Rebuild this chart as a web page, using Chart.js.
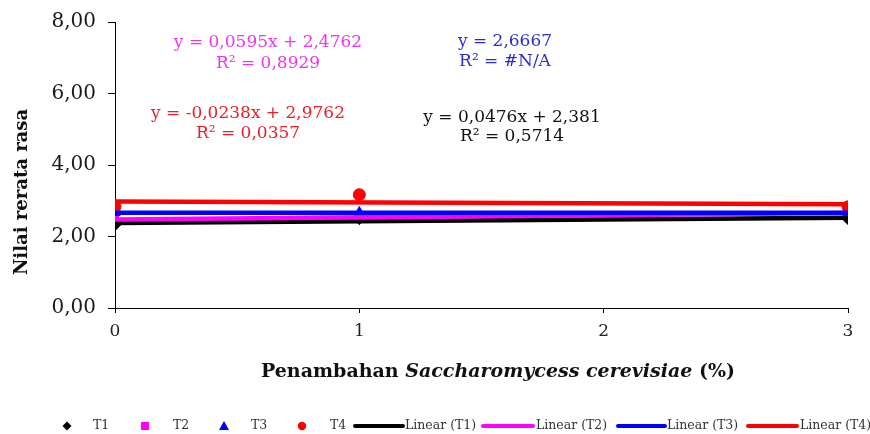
<!DOCTYPE html>
<html>
<head>
<meta charset="utf-8">
<script src="https://cdn.jsdelivr.net/npm/chart.js@4"></script>
<style>
  html, body { margin: 0; padding: 0; background: #fff; }
  #wrap { width: 870px; height: 434px; }
</style>
</head>
<body>
<div id="wrap"><canvas id="chart" width="870" height="434"></canvas></div>
<script>
// data
const doses = [0, 1, 3];
const t1 = [2.33, 2.5, 2.5];
const t2 = [2.5, 2.5, 2.67];
const t3 = [2.67, 2.67, 2.67];
const t4 = [2.83, 3.17, 2.83];

// trendline end points (x = 0 and x = 3)
const trendX = [0, 3];
const trendT1 = [2.381, 2.524];
const trendT2 = [2.476, 2.655];
const trendT3 = [2.667, 2.667];
const trendT4 = [2.976, 2.905];

const yTicks = [0, 2, 4, 6, 8];
const xTicks = [0, 1, 2, 3];

const seriesNames = ['T1', 'T2', 'T3', 'T4'];
const trendNames = ['Linear (T1)', 'Linear (T2)', 'Linear (T3)', 'Linear (T4)'];
const colors = ['#000000', '#ff00ff', '#0000ff', '#ff0000'];

const equations = [
  ['y = 0,0595x + 2,4762', 'R² = 0,8929'],
  ['y = 2,6667', 'R² = #N/A'],
  ['y = -0,0238x + 2,9762', 'R² = 0,0357'],
  ['y = 0,0476x + 2,381', 'R² = 0,5714']
];

const SERIF = '"DejaVu Serif", "Liberation Serif", serif';

function pts(xs, ys) {
  return xs.map((x, i) => ({ x: x, y: ys[i] }));
}

function trend(ys, color) {
  return {
    type: 'line',
    data: pts(trendX, ys),
    borderColor: color,
    borderWidth: 4.5,
    pointRadius: 0,
    fill: false
  };
}

function marks(ys, color, style, r) {
  return {
    type: 'scatter',
    data: pts(doses, ys),
    backgroundColor: color,
    borderColor: color,
    pointStyle: style,
    pointRadius: r,
    pointHoverRadius: r
  };
}

// draw a legend marker by hand
function drawMarker(ctx, style, x, y, color) {
  ctx.save();
  ctx.fillStyle = color;
  ctx.beginPath();
  if (style === 'diamond') {
    ctx.moveTo(x, y - 4.5); ctx.lineTo(x + 4.5, y); ctx.lineTo(x, y + 4.5); ctx.lineTo(x - 4.5, y);
  } else if (style === 'square') {
    ctx.rect(x - 4, y - 4, 8, 8);
  } else if (style === 'triangle') {
    ctx.moveTo(x, y - 5); ctx.lineTo(x + 5, y + 4); ctx.lineTo(x - 5, y + 4);
  } else {
    ctx.arc(x, y, 4.2, 0, Math.PI * 2);
  }
  ctx.closePath();
  ctx.fill();
  ctx.restore();
}

const decor = {
  id: 'decor',
  afterDraw(chart) {
    const ctx = chart.ctx;
    ctx.save();

    // equations of the trendlines
    ctx.font = '17px ' + SERIF;
    ctx.textAlign = 'center';
    ctx.textBaseline = 'middle';
    const eqPos = [[268, 43, 64], [505, 42, 62], [248, 114, 134], [512, 118, 137]];
    const eqColors = ['#e838e8', '#2b2bd0', '#e8202a', '#111111'];
    equations.forEach((lines, i) => {
      ctx.fillStyle = eqColors[i];
      ctx.fillText(lines[0], eqPos[i][0], eqPos[i][1]);
      ctx.fillText(lines[1], eqPos[i][0], eqPos[i][2]);
    });

    // y axis title
    ctx.save();
    ctx.translate(22, 192);
    ctx.rotate(-Math.PI / 2);
    ctx.fillStyle = '#111';
    ctx.font = 'bold 18px ' + SERIF;
    ctx.fillText('Nilai rerata rasa', 0, 0);
    ctx.restore();

    // x axis title, italic species name
    const partA = 'Penambahan ';
    const partB = 'Saccharomycess cerevisiae';
    const partC = ' (%)';
    const fA = 'bold 19px ' + SERIF;
    const fB = 'italic bold 19px ' + SERIF;
    ctx.font = fA; const wA = ctx.measureText(partA).width; const wC = ctx.measureText(partC).width;
    ctx.font = fB; const wB = ctx.measureText(partB).width;
    let tx = 498 - (wA + wB + wC) / 2;
    ctx.textAlign = 'left';
    ctx.fillStyle = '#111';
    ctx.font = fA; ctx.fillText(partA, tx, 372); tx += wA;
    ctx.font = fB; ctx.fillText(partB, tx, 372); tx += wB;
    ctx.font = fA; ctx.fillText(partC, tx, 372);

    // legend
    const ly = 426;
    ctx.font = '12.5px ' + SERIF;
    ctx.fillStyle = '#333';
    const markX = [67, 145, 224, 302];
    const markLabelX = [93, 173, 251, 330];
    const shapes = ['diamond', 'square', 'triangle', 'circle'];
    seriesNames.forEach((name, i) => {
      drawMarker(ctx, shapes[i], markX[i], ly, colors[i]);
      ctx.fillStyle = '#333';
      ctx.fillText(name, markLabelX[i], ly);
    });
    const lineX = [[355, 403], [483, 533], [618, 665], [748, 797]];
    const lineLabelX = [405, 536, 667, 800];
    trendNames.forEach((name, i) => {
      ctx.strokeStyle = colors[i];
      ctx.lineWidth = 4;
      ctx.lineCap = 'round';
      ctx.beginPath();
      ctx.moveTo(lineX[i][0], ly);
      ctx.lineTo(lineX[i][1], ly);
      ctx.stroke();
      ctx.fillStyle = '#333';
      ctx.fillText(name, lineLabelX[i], ly);
    });

    ctx.restore();
  }
};

new Chart(document.getElementById('chart'), {
  type: 'scatter',
  data: {
    datasets: [
      trend(trendT4, colors[3]),
      trend(trendT3, colors[2]),
      trend(trendT2, colors[1]),
      trend(trendT1, colors[0]),
      marks(t4, colors[3], 'circle', 6),
      marks(t3, colors[2], 'triangle', 6),
      marks(t2, colors[1], 'rect', 5),
      marks(t1, colors[0], 'rectRot', 6)
    ]
  },
  options: {
    responsive: false,
    animation: false,
    devicePixelRatio: 1,
    layout: { padding: { left: 0, right: 22, top: 21, bottom: 0 } },
    plugins: {
      legend: { display: false },
      tooltip: { enabled: false }
    },
    scales: {
      x: {
        type: 'linear',
        min: 0,
        max: 3,
        afterFit(scale) { scale.height = 126; },
        afterBuildTicks(scale) { scale.ticks = xTicks.map(v => ({ value: v })); },
        border: { display: true, color: '#000', width: 1 },
        grid: { display: true, drawOnChartArea: false, drawTicks: true, tickLength: 5, color: '#000' },
        ticks: {
          padding: 8,
          color: '#222',
          font: { family: SERIF, size: 17 },
          callback: v => String(v)
        }
      },
      y: {
        min: 0,
        max: 8,
        afterFit(scale) { scale.width = 115; },
        afterBuildTicks(scale) { scale.ticks = yTicks.map(v => ({ value: v })); },
        border: { display: true, color: '#000', width: 1 },
        grid: { display: true, drawOnChartArea: false, drawTicks: true, tickLength: 7, color: '#000' },
        ticks: {
          padding: 12,
          color: '#1a1a1a',
          font: { family: SERIF, size: 20, lineHeight: 1 },
          callback: v => v.toFixed(2).replace('.', ',')
        }
      }
    }
  },
  plugins: [decor]
});
</script>
</body>
</html>
